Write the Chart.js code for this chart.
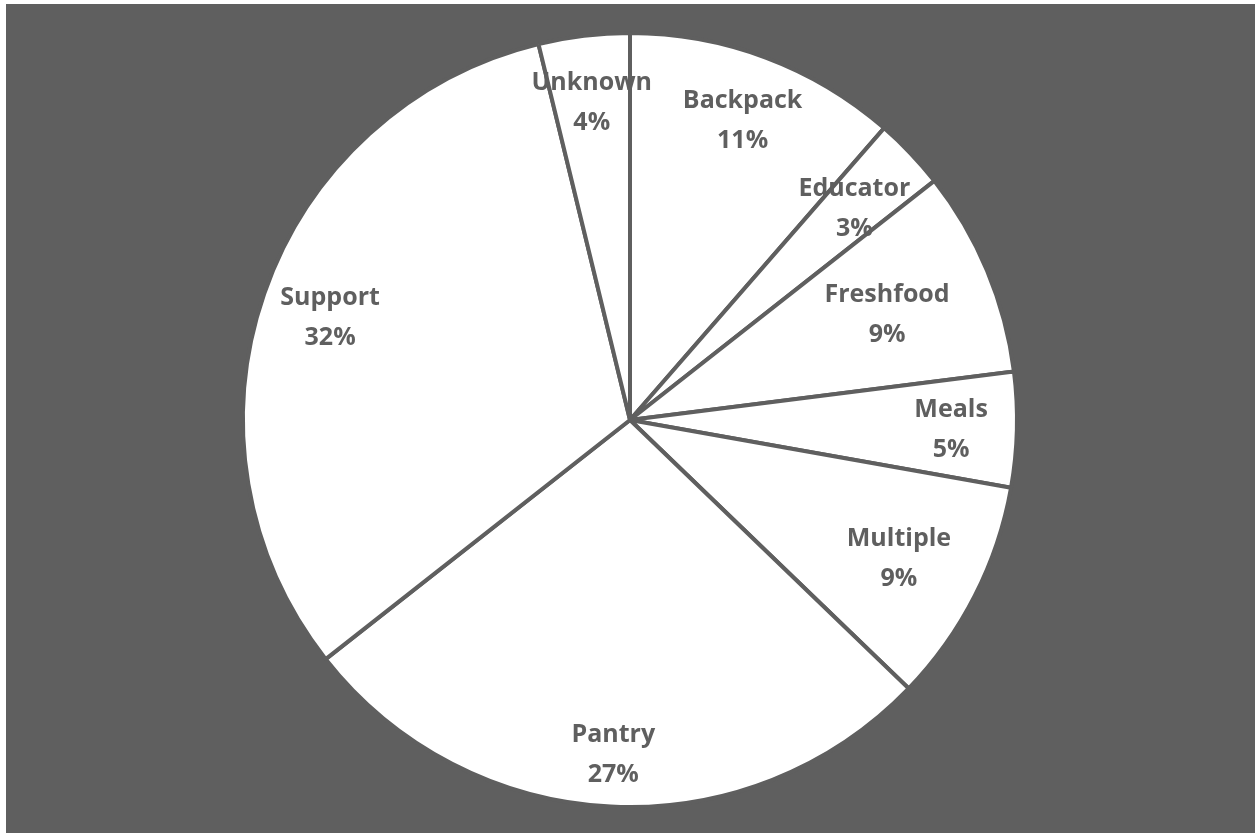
<!DOCTYPE html>
<html>
<head>
<meta charset="utf-8">
<script src="https://cdn.jsdelivr.net/npm/chart.js@4/dist/chart.umd.min.js"></script>
<style>
  html, body { margin: 0; padding: 0; background: #ffffff; }
  canvas { display: block; }
</style>
</head>
<body>
<canvas id="pieChart" width="1255" height="833"></canvas>
<script>
// program categories and their share of the total (percent)
const categories = ['Backpack', 'Educator', 'Freshfood', 'Meals', 'Multiple', 'Pantry', 'Support', 'Unknown'];
const shares = [11.4, 3.0, 8.6, 4.8, 9.4, 27.2, 31.8, 3.8];

// how far out (fraction of radius) each label sits
const labelRadius = [0.83, 0.80, 0.72, 0.83, 0.78, 0.86, 0.82, 0.83];

const GREY = '#5f5f5f';

const ctx = document.getElementById('pieChart').getContext('2d');

const pieChart = new Chart(ctx, {
    type: 'pie',
    data: {
        labels: categories,
        datasets: [{
            data: shares,
            backgroundColor: '#ffffff',
            borderColor: GREY,
            borderWidth: 4
        }]
    },
    options: {
        responsive: false,
        animation: false,
        layout: {
            padding: { left: 241, right: 236, top: 31, bottom: 24 }
        },
        plugins: {
            legend: { display: false },
            tooltip: { enabled: false }
        }
    },
    plugins: [{
        id: 'panelBackground',
        beforeDraw(chart) {
            const c = chart.ctx;
            c.save();
            c.fillStyle = '#ffffff';
            c.fillRect(0, 0, chart.width, chart.height);
            c.fillStyle = GREY;
            c.fillRect(6, 4, chart.width - 6, chart.height - 4);
            c.restore();
        }
    }, {
        id: 'sliceLabels',
        afterDatasetsDraw(chart) {
            const c = chart.ctx;
            const meta = chart.getDatasetMeta(0);
            const total = shares.reduce((a, b) => a + b, 0);
            c.save();
            c.font = "bold 25px 'Open Sans', sans-serif";
            c.fillStyle = GREY;
            c.textAlign = 'center';
            c.textBaseline = 'middle';
            meta.data.forEach((arc, i) => {
                const mid = (arc.startAngle + arc.endAngle) / 2;
                const r = arc.outerRadius * labelRadius[i];
                const x = arc.x + Math.cos(mid) * r;
                const y = arc.y + Math.sin(mid) * r + 2;
                const pct = Math.round(shares[i] / total * 100) + '%';
                c.fillText(categories[i], x, y - 20);
                c.fillText(pct, x, y + 20);
            });
            c.restore();
        }
    }]
});
</script>
</body>
</html>
